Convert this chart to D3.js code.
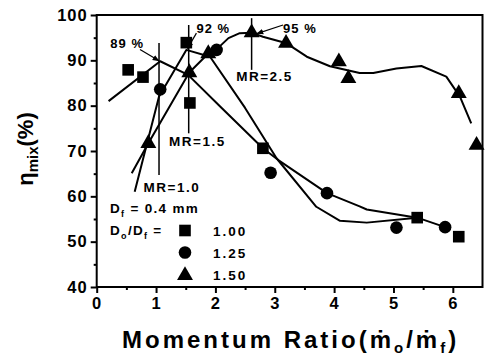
<!DOCTYPE html>
<html><head><meta charset="utf-8">
<script src="https://cdn.jsdelivr.net/npm/d3@7"></script>
<style>
body{margin:0;background:#fff}
svg{display:block}
text{font-family:"Liberation Sans",Arial,Helvetica,sans-serif;font-weight:bold;fill:#000}
</style>
</head><body>
<svg id="c" width="485" height="360"></svg>
<script>
// ---- data ----
const xTicks = [0, 1, 2, 3, 4, 5, 6];
const yTicks = [40, 50, 60, 70, 80, 90, 100];
const xMinor = [0.5, 1.5, 2.5, 3.5, 4.5, 5.5];
const yMinor = [45, 55, 65, 75, 85, 95];

// Do/Df = 1.00 (squares)
const sqX = [0.53, 0.78, 1.51, 1.57, 2.80, 5.40, 6.10];
const sqY = [87.9, 86.3, 93.9, 80.6, 70.6, 55.3, 51.1];
// Do/Df = 1.25 (circles)
const ciX = [1.07, 2.02, 2.93, 3.88, 5.05, 5.87];
const ciY = [83.6, 92.3, 65.2, 60.7, 53.1, 53.2];
// Do/Df = 1.50 (triangles)
const trX = [0.87, 1.56, 1.88, 2.61, 3.19, 4.08, 4.24, 6.10, 6.40];
const trY = [71.7, 87.3, 91.5, 96.1, 93.8, 89.7, 86.0, 82.7, 71.3];

// fitted curves
const fitSqX = [0.20, 1.07, 1.54, 2.08, 2.80, 3.06, 3.88, 4.43, 4.55, 5.40, 5.87];
const fitSqY = [81.0, 89.8, 86.8, 79.8, 70.6, 68.0, 60.7, 57.8, 57.1, 55.3, 53.2];
const fitCiX = [0.64, 1.05, 1.51, 1.91, 2.50, 3.03, 3.70, 4.10, 4.55, 5.40];
const fitCiY = [61.0, 82.0, 92.3, 90.8, 79.5, 68.4, 57.7, 54.6, 54.2, 55.3];
const fitTrX = [0.59, 0.87, 1.56, 1.88, 2.05, 2.22, 2.41, 2.61, 2.80, 3.20, 3.54, 3.93, 4.43, 4.66, 5.05, 5.47, 5.89, 6.12, 6.31];
const fitTrY = [65.1, 71.7, 87.3, 91.5, 92.8, 94.9, 96.0, 96.1, 95.2, 93.75, 90.8, 88.7, 87.2, 87.2, 88.2, 88.75, 86.4, 82.0, 76.1];

// optimum-MR vertical markers
const mrX = [1.05, 1.55, 2.61];
const mrTop = [93.8, 97.8, 99.3];
const mrBot = [64.7, 73.9, 87.9];
const mrLabels = ["MR=1.0", "MR=1.5", "MR=2.5"];
const mrLabelX = [0.79, 1.22, 2.35];
const mrLabelY = [61.0, 71.0, 85.4];

// peak annotations
const peakLabels = ["89 %", "92 %", "95 %"];
const peakTextX = [0.23, 1.68, 3.14];
const peakTextY = [92.7, 96.0, 96.0];
const arrowFromX = [0.73, 1.68, 3.14];
const arrowFromY = [92.4, 96.0, 97.8];
const arrowToX = [1.05, 1.53, 2.70];
const arrowToY = [89.9, 92.6, 95.9];

const legendLabels = ["1.00", "1.25", "1.50"];

// ---- chart ----
const svg = d3.select("#c");
const x = d3.scaleLinear().domain([0, 6.5]).range([96.7, 482.5]);
const y = d3.scaleLinear().domain([40, 100]).range([287, 15]);

svg.append("defs").append("marker")
  .attr("id", "ah").attr("viewBox", "0 0 10 10").attr("refX", 9).attr("refY", 5)
  .attr("markerWidth", 7).attr("markerHeight", 7).attr("orient", "auto")
  .attr("markerUnits", "userSpaceOnUse")
  .append("path").attr("d", "M0,1 L10,5 L0,9 Z").attr("fill", "#000");

// frame
svg.append("rect").attr("x", x(0)).attr("y", y(100))
  .attr("width", x(6.5) - x(0)).attr("height", y(40) - y(100))
  .attr("fill", "none").attr("stroke", "#000").attr("stroke-width", 2);

// axes
const axStyle = g => { g.select(".domain").remove(); g.selectAll("line").attr("stroke", "#000").attr("stroke-width", 2); };
const tickFont = g => g.selectAll("text").attr("font-size", 16.5).attr("letter-spacing", 1)
  .style("font-family", '"Liberation Sans",Arial,sans-serif').style("font-weight", "bold");
svg.append("g").attr("transform", `translate(0,${y(40)})`)
  .call(d3.axisBottom(x).tickValues(xTicks).tickSize(6).tickPadding(4).tickFormat(d3.format("d")))
  .call(axStyle).call(tickFont);
svg.append("g").attr("transform", `translate(0,${y(40)})`)
  .call(d3.axisBottom(x).tickValues(xMinor).tickSize(3).tickFormat(""))
  .call(axStyle);
svg.append("g").attr("transform", `translate(${x(0)},0)`)
  .call(d3.axisLeft(y).tickValues(yTicks).tickSize(6).tickPadding(3).tickFormat(d3.format("d")))
  .call(axStyle).call(tickFont);
svg.append("g").attr("transform", `translate(${x(0)},0)`)
  .call(d3.axisLeft(y).tickValues(yMinor).tickSize(3).tickFormat(""))
  .call(axStyle);

// fit curves
const line = d3.line().x(d => x(d[0])).y(d => y(d[1]));
[[fitSqX, fitSqY], [fitCiX, fitCiY], [fitTrX, fitTrY]].forEach(([xs, ys]) => {
  svg.append("path").datum(xs.map((v, i) => [v, ys[i]]))
    .attr("d", line).attr("fill", "none").attr("stroke", "#000")
    .attr("stroke-width", 2).attr("stroke-linejoin", "round");
});

// vertical MR lines
svg.selectAll(".mr").data(mrX).join("line")
  .attr("x1", d => x(d)).attr("x2", d => x(d))
  .attr("y1", (d, i) => y(mrTop[i])).attr("y2", (d, i) => y(mrBot[i]))
  .attr("stroke", "#000").attr("stroke-width", 1.5);
svg.selectAll(".mrl").data(mrLabels).join("text")
  .attr("x", (d, i) => x(mrLabelX[i])).attr("y", (d, i) => y(mrLabelY[i]))
  .attr("font-size", 13.5).attr("letter-spacing", 1.5).text(d => d);

// peak annotations
svg.selectAll(".pk").data(peakLabels).join("text")
  .attr("x", (d, i) => x(peakTextX[i])).attr("y", (d, i) => y(peakTextY[i]))
  .attr("font-size", 13).attr("letter-spacing", 1).text(d => d);
svg.selectAll(".ar").data(arrowFromX).join("line")
  .attr("x1", d => x(d)).attr("y1", (d, i) => y(arrowFromY[i]))
  .attr("x2", (d, i) => x(arrowToX[i])).attr("y2", (d, i) => y(arrowToY[i]))
  .attr("stroke", "#000").attr("stroke-width", 1.2).attr("marker-end", "url(#ah)");

// symbols
const sqSym = d3.symbol().type(d3.symbolSquare).size(135);
const ciSym = d3.symbol().type(d3.symbolCircle).size(125);
const trSym = d3.symbol().type(d3.symbolTriangle).size(110);
const drawPts = (xs, ys, sym) => svg.append("g").selectAll("path")
  .data(xs.map((v, i) => [v, ys[i]])).join("path")
  .attr("transform", d => `translate(${x(d[0])},${y(d[1])})`)
  .attr("d", sym).attr("fill", "#000");
drawPts(sqX, sqY, sqSym);
drawPts(ciX, ciY, ciSym);
drawPts(trX, trY, trSym);

// legend
const lg = svg.append("g");
const t1 = lg.append("text").attr("x", 110).attr("y", 213).attr("font-size", 13.5).attr("letter-spacing", 1.3);
t1.append("tspan").text("D");
t1.append("tspan").attr("font-size", 9).attr("dy", 4).text("f");
t1.append("tspan").attr("dy", -4).text(" = 0.4 mm");
const t2 = lg.append("text").attr("x", 110).attr("y", 235).attr("font-size", 13.5).attr("letter-spacing", 1.3);
t2.append("tspan").text("D");
t2.append("tspan").attr("font-size", 9).attr("dy", 4).text("o");
t2.append("tspan").attr("dy", -4).text("/D");
t2.append("tspan").attr("font-size", 9).attr("dy", 4).text("f");
t2.append("tspan").attr("dy", -4).text(" =");
const syms = [sqSym, ciSym, trSym];
legendLabels.forEach((lab, i) => {
  const cy = 230.5 + i * 22;
  lg.append("path").attr("transform", `translate(185,${cy + (i === 2 ? 1 : 0)})`).attr("d", syms[i]).attr("fill", "#000");
  lg.append("text").attr("x", 213).attr("y", cy + 5).attr("font-size", 13.5).attr("letter-spacing", 2).text(lab);
});

// axis titles
const xt = svg.append("text").attr("x", 122).attr("y", 348).attr("font-size", 24).attr("letter-spacing", 3);
xt.append("tspan").text("Momentum Ratio(ṁ");
xt.append("tspan").attr("font-size", 15).attr("dy", 5).text("o");
xt.append("tspan").attr("dy", -5).text("/ṁ");
xt.append("tspan").attr("font-size", 15).attr("dy", 5).text("f");
xt.append("tspan").attr("dy", -5).text(")");

const yt = svg.append("text").attr("transform", "translate(33,149) rotate(-90)")
  .attr("text-anchor", "middle").attr("font-size", 22);
yt.append("tspan").text("η");
yt.append("tspan").attr("font-size", 15).attr("dy", 5).text("mix");
yt.append("tspan").attr("dy", -5).text("(%)");
</script>
</body></html>
